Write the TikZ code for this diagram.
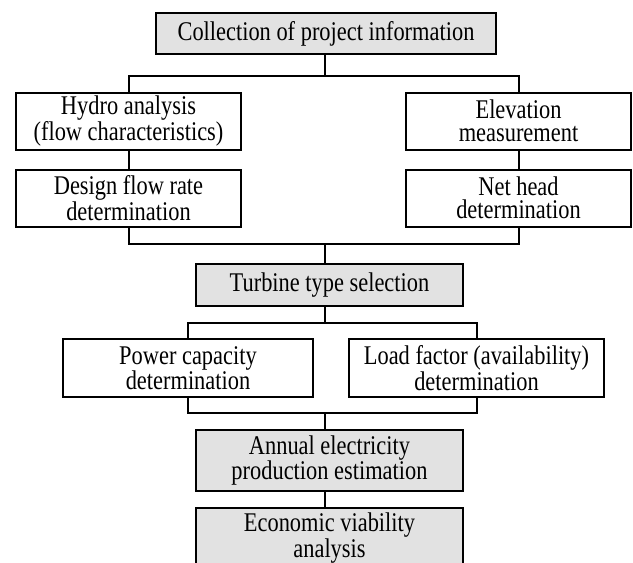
\documentclass[tikz,border=0pt]{standalone}
\usepackage{fontspec}
\setmainfont{Liberation Serif}[FakeStretch=0.83]
\usepackage{tikz}

\definecolor{keygrey}{RGB}{226,226,226}

\begin{document}
\begin{tikzpicture}[x=1pt,y=-1pt,line width=2pt,
    stage/.style={draw,inner sep=0pt,align=center,
      font=\fontsize{27}{23}\selectfont},
    keystage/.style={stage,fill=keygrey}]
  \useasboundingbox (0,0) rectangle (633,563);
  \node[keystage,minimum width=340,minimum height=41] (info)    at (326,  33.5) {Collection of project information};
  \node[stage,   minimum width=225,minimum height=57] (hydro)   at (128.5,121)  {Hydro analysis\\(flow characteristics)};
  \node[stage,   minimum width=225,minimum height=57] (elev)    at (518.5,121)  {Elevation\\measurement};
  \node[stage,   minimum width=225,minimum height=57] (design)  at (128.5,198)  {Design flow rate\\determination};
  \node[stage,   minimum width=225,minimum height=57] (nethead) at (518.5,198)  {Net head\\determination};
  \node[keystage,minimum width=267,minimum height=42] (turbine) at (329.5,285)  {Turbine type selection};
  \node[stage,   minimum width=250,minimum height=58] (power)   at (188,  368)  {Power capacity\\determination};
  \node[stage,   minimum width=255,minimum height=58] (load)    at (476.5,368)  {Load factor (availability)\\determination};
  \node[keystage,minimum width=267,minimum height=61] (annual)  at (329.5,460.5){Annual electricity\\production estimation};
  \node[keystage,minimum width=267,minimum height=61] (econ)    at (329.5,538)  {Economic viability\\analysis};
  \coordinate (j1) at (325, 76);
  \coordinate (j2) at (325,244);
  \coordinate (j3) at (325,323);
  \coordinate (j4) at (325,413);
  \draw (j1 |- info.south) -- (j1);
  \draw (hydro.north) |- (j1) -| (elev.north);
  \draw (hydro) -- (design);
  \draw (elev) -- (nethead);
  \draw (design.south) |- (j2) -| (nethead.south);
  \draw (j2) -- (j2 |- turbine.north);
  \draw (j3 |- turbine.south) -- (j3);
  \draw (power.north) |- (j3) -| (load.north);
  \draw (power.south) |- (j4) -| (load.south);
  \draw (j4) -- (j4 |- annual.north);
  \draw (j4 |- annual.south) -- (j4 |- econ.north);
\end{tikzpicture}
\end{document}
